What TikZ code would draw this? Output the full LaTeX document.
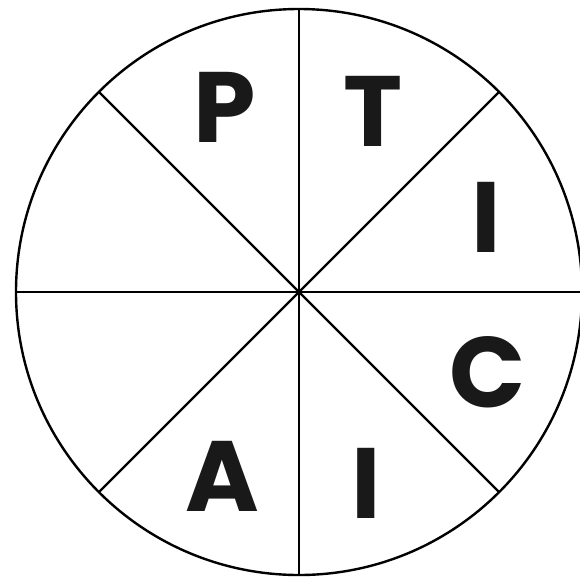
\documentclass[tikz,border=0pt]{standalone}
\usepackage{fontspec}
\setmainfont{Poppins}
\begin{document}
\begin{tikzpicture}[x=1pt,y=-1pt,line width=2.4pt,
  letter/.style={inner sep=0pt,font=\fontsize{100}{100}\selectfont\bfseries,text=black!90}]
\useasboundingbox (0,0) rectangle (580,579);
\coordinate (o) at (299,292);
\draw (o) circle (283);
\foreach \a in {0,45,...,315}
  \draw (o) -- +(\a:283);
% letters round the wheel
\node[letter] (p) at (225,107) {P};
\node[letter] (t) at (373,111) {T};
\node[letter] (i1) at (486,217) {I};
\node[letter] (c) at (488,372) {C};
\node[letter] (i2) at (366,483) {I};
\node[letter] (a) at (222,476) {A};
\end{tikzpicture}
\end{document}
